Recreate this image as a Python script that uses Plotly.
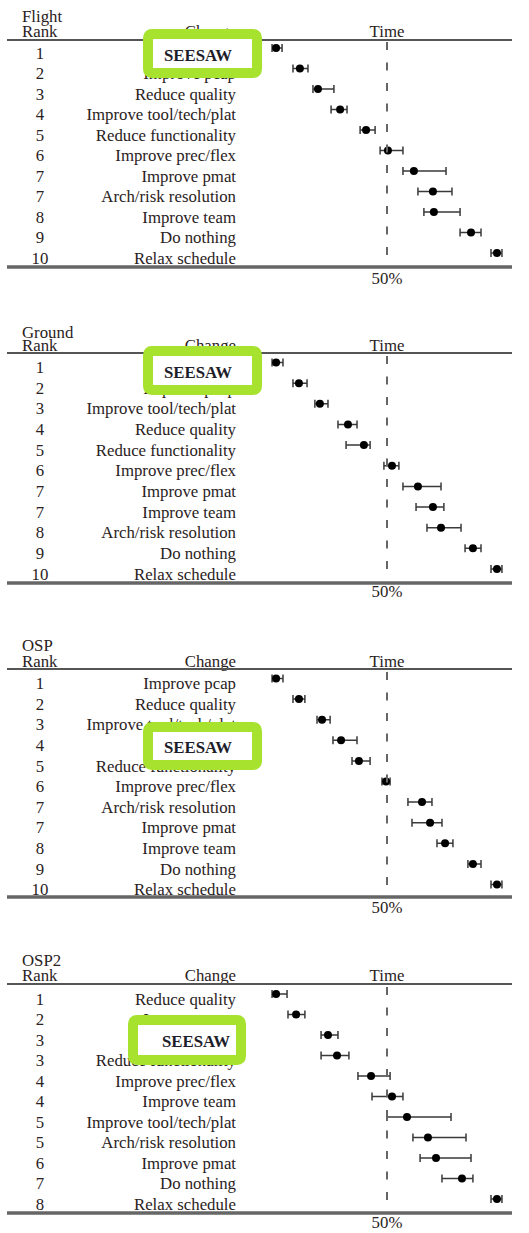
import numpy as np
import plotly.graph_objects as go

W, H = 529, 1233

# ---------------- data ----------------
panel_names = ["Flight", "Ground", "OSP", "OSP2"]

flight_changes = ["SEESAW", "Improve pcap", "Reduce quality", "Improve tool/tech/plat",
                  "Reduce functionality", "Improve prec/flex", "Improve pmat",
                  "Arch/risk resolution", "Improve team", "Do nothing", "Relax schedule"]
flight_ranks = [1, 2, 3, 4, 5, 6, 7, 7, 8, 9, 10]
flight_median = [3.4, 13.4, 21.0, 30.3, 41.2, 50.4, 61.3, 69.3, 69.7, 85.3, 96.2]
flight_low = [1.7, 10.5, 18.9, 26.5, 38.7, 47.1, 56.7, 63.0, 65.5, 80.7, 93.7]
flight_high = [5.9, 16.8, 27.7, 33.2, 45.0, 56.7, 74.8, 77.3, 80.7, 89.5, 98.3]

ground_changes = ["SEESAW", "Improve pcap", "Improve tool/tech/plat", "Reduce quality",
                  "Reduce functionality", "Improve prec/flex", "Improve pmat",
                  "Improve team", "Arch/risk resolution", "Do nothing", "Relax schedule"]
ground_ranks = [1, 2, 3, 4, 5, 6, 7, 7, 8, 9, 10]
ground_median = [3.4, 13.0, 21.8, 33.6, 40.3, 52.1, 63.0, 69.3, 72.7, 86.1, 96.2]
ground_low = [1.7, 10.5, 19.7, 29.4, 32.8, 48.7, 56.7, 62.2, 66.8, 82.8, 93.7]
ground_high = [6.3, 16.4, 25.2, 37.4, 42.9, 55.0, 72.7, 73.9, 81.1, 89.5, 98.3]

osp_changes = ["Improve pcap", "Reduce quality", "Improve tool/tech/plat", "SEESAW",
               "Reduce functionality", "Improve prec/flex", "Arch/risk resolution",
               "Improve pmat", "Improve team", "Do nothing", "Relax schedule"]
osp_ranks = [1, 2, 3, 4, 5, 6, 7, 7, 8, 9, 10]
osp_median = [3.4, 13.0, 22.7, 30.7, 38.2, 49.6, 64.7, 68.1, 74.4, 86.1, 96.2]
osp_low = [1.7, 10.5, 20.6, 27.3, 35.3, 47.9, 58.8, 60.5, 71.0, 84.0, 93.7]
osp_high = [6.3, 15.5, 26.1, 37.4, 42.9, 51.3, 68.9, 73.1, 77.7, 89.5, 98.3]

osp2_changes = ["Reduce quality", "Improve pcap", "SEESAW", "Reduce functionality",
                "Improve prec/flex", "Improve team", "Improve tool/tech/plat",
                "Arch/risk resolution", "Improve pmat", "Do nothing", "Relax schedule"]
osp2_ranks = [1, 2, 3, 3, 4, 4, 5, 5, 6, 7, 8]
osp2_median = [3.4, 11.8, 25.2, 29.0, 43.3, 52.1, 58.4, 67.2, 70.6, 81.5, 96.2]
osp2_low = [1.7, 8.4, 22.3, 22.3, 37.8, 43.7, 50.0, 60.9, 63.9, 73.1, 93.7]
osp2_high = [8.0, 15.5, 29.4, 34.0, 51.3, 56.7, 76.9, 83.2, 85.3, 86.1, 98.3]

reference_pct = 50
reference_label = "50%"

# ---------------- layout (pixels) ----------------
X0_PX = 268.0       # pixel of 0 %
PX_PER_PCT = 2.38   # pixels per percent
TEXT_SHIFT = 2.0    # plotly draws "middle" text ~2px above its anchor
ROW_TEXT_OFFSET = 4.5  # row labels sit this much lower than the markers

# row0 = pixel y of the first row's marker; other y's are visual text centres
panels_px = [
    dict(top=0, bottom=300, row0=48, step=20.5, name_y=15.5, head_y=30.5, rule_top=40,
         rule_bot=267, pct_y=278, dash0=42, dash1=262, box=(143, 29, 262, 78), pad=22),
    dict(top=300, bottom=620, row0=362.5, step=20.65, name_y=331.5, head_y=345, rule_top=353,
         rule_bot=583, pct_y=591, dash0=356, dash1=578, box=(143, 346, 262, 395), pad=22),
    dict(top=620, bottom=935, row0=678.5, step=20.6, name_y=645, head_y=661, rule_top=669,
         rule_bot=897, pct_y=907, dash0=672, dash1=892, box=(143, 722, 262, 770), pad=22),
    dict(top=935, bottom=1233, row0=994, step=20.5, name_y=959.5, head_y=975, rule_top=984,
         rule_bot=1213, pct_y=1222, dash0=987, dash1=1208, box=(128, 1015, 246, 1065), pad=8),
]

panel_data = [
    (flight_changes, flight_ranks, flight_median, flight_low, flight_high),
    (ground_changes, ground_ranks, ground_median, ground_low, ground_high),
    (osp_changes, osp_ranks, osp_median, osp_low, osp_high),
    (osp2_changes, osp2_ranks, osp2_median, osp2_low, osp2_high),
]

FONT = "Liberation Serif"
FS = 16.8
TXT = "#2a2222"
GREEN = "#a6e22e"


def xd(px):
    return (px - X0_PX) / PX_PER_PCT


fig = go.Figure()
shapes = []
layout_axes = {}

for k, (name, p, (changes, ranks, med, lo, hi)) in enumerate(zip(panel_names, panels_px, panel_data)):
    sfx = "" if k == 0 else str(k + 1)
    xa, ya = "x" + sfx, "y" + sfx

    def yr(py, p=p):
        return (py - p["row0"]) / p["step"]

    def yt(py, p=p):  # anchor for a text whose visual centre is py
        return (py + TEXT_SHIFT - p["row0"]) / p["step"]

    n = len(changes)
    rows = np.arange(n)
    text_rows = rows + (ROW_TEXT_OFFSET + TEXT_SHIFT) / p["step"]
    med = np.array(med)
    lo = np.array(lo)
    hi = np.array(hi)
    tf = dict(family=FONT, size=FS, color=TXT)

    # rank column
    fig.add_trace(go.Scatter(x=[xd(40)] * n, y=text_rows, mode="text", text=[str(r) for r in ranks],
                             textposition="middle center", textfont=tf, xaxis=xa, yaxis=ya,
                             hoverinfo="skip", showlegend=False))
    # change column
    fig.add_trace(go.Scatter(x=[xd(236)] * n, y=text_rows, mode="text", text=changes,
                             textposition="middle left", textfont=tf, xaxis=xa, yaxis=ya,
                             hoverinfo="skip", showlegend=False))
    # headers
    fig.add_trace(go.Scatter(x=[xd(22), xd(22)], y=[yt(p["name_y"]), yt(p["head_y"])], mode="text",
                             text=[name, "Rank"], textposition="middle right", textfont=tf,
                             xaxis=xa, yaxis=ya, hoverinfo="skip", showlegend=False))
    fig.add_trace(go.Scatter(x=[xd(236)], y=[yt(p["head_y"])], mode="text", text=["Change"],
                             textposition="middle left", textfont=tf, xaxis=xa, yaxis=ya,
                             hoverinfo="skip", showlegend=False))
    fig.add_trace(go.Scatter(x=[reference_pct, reference_pct], y=[yt(p["head_y"]), yt(p["pct_y"])],
                             mode="text", text=["Time", reference_label], textposition="middle center",
                             textfont=tf, xaxis=xa, yaxis=ya, hoverinfo="skip", showlegend=False))
    # medians with ranges
    fig.add_trace(go.Scatter(x=med, y=rows, mode="markers",
                             marker=dict(color="black", size=8),
                             error_x=dict(type="data", symmetric=False, array=hi - med,
                                          arrayminus=med - lo, color="#3a3a3a",
                                          thickness=1.5, width=4),
                             xaxis=xa, yaxis=ya, hoverinfo="skip", showlegend=False))

    layout_axes["xaxis" + sfx] = dict(domain=[0, 1], range=[xd(0), xd(W)], visible=False,
                                      anchor=ya, fixedrange=True)
    layout_axes["yaxis" + sfx] = dict(domain=[1 - p["bottom"] / H, 1 - p["top"] / H],
                                      range=[yr(p["bottom"]), yr(p["top"])], visible=False,
                                      anchor=xa, fixedrange=True)

    # rules
    shapes.append(dict(type="line", xref=xa, yref=ya, x0=xd(7), x1=xd(512),
                       y0=yr(p["rule_top"]), y1=yr(p["rule_top"]),
                       line=dict(color="#555555", width=2)))
    shapes.append(dict(type="line", xref=xa, yref=ya, x0=xd(7), x1=xd(512),
                       y0=yr(p["rule_bot"]), y1=yr(p["rule_bot"]),
                       line=dict(color="#666666", width=3.5)))
    # 50 % dashed reference line
    shapes.append(dict(type="line", xref=xa, yref=ya, x0=reference_pct, x1=reference_pct,
                       y0=yr(p["dash0"]), y1=yr(p["dash1"]),
                       line=dict(color="#666666", width=2, dash="8px,12.5px")))

    # green highlight box (rounded)
    bx0, by0, bx1, by1 = p["box"]
    sw = 10
    cx0, cy0, cx1, cy1 = bx0 + sw / 2, by0 + sw / 2, bx1 - sw / 2, by1 - sw / 2
    r = 4
    pts = [
        ("M", cx0 + r, cy0), ("L", cx1 - r, cy0), ("Q", cx1, cy0, cx1, cy0 + r),
        ("L", cx1, cy1 - r), ("Q", cx1, cy1, cx1 - r, cy1), ("L", cx0 + r, cy1),
        ("Q", cx0, cy1, cx0, cy1 - r), ("L", cx0, cy0 + r), ("Q", cx0, cy0, cx0 + r, cy0),
    ]
    path = ""
    for seg in pts:
        cmd = seg[0]
        coords = seg[1:]
        parts = []
        for i in range(0, len(coords), 2):
            parts.append(f"{xd(coords[i]):.4f},{yr(coords[i + 1]):.4f}")
        path += cmd + " ".join(parts) + " "
    path += "Z"
    shapes.append(dict(type="path", xref=xa, yref=ya, path=path, layer="above",
                       fillcolor="white", line=dict(color=GREEN, width=sw),
                       label=dict(text="SEESAW", textposition="middle right", padding=p["pad"],
                                  font=dict(family=FONT, size=FS, color="#1e1e2a", weight="bold"))))

fig.update_layout(
    width=W, height=H,
    margin=dict(l=0, r=0, t=0, b=0),
    paper_bgcolor="white", plot_bgcolor="white",
    showlegend=False,
    shapes=shapes,
    **layout_axes,
)

fig.write_html("out.html",
               config={"displayModeBar": False, "staticPlot": True},
               post_script="document.body.style.margin='0';document.body.style.overflow='hidden';")
